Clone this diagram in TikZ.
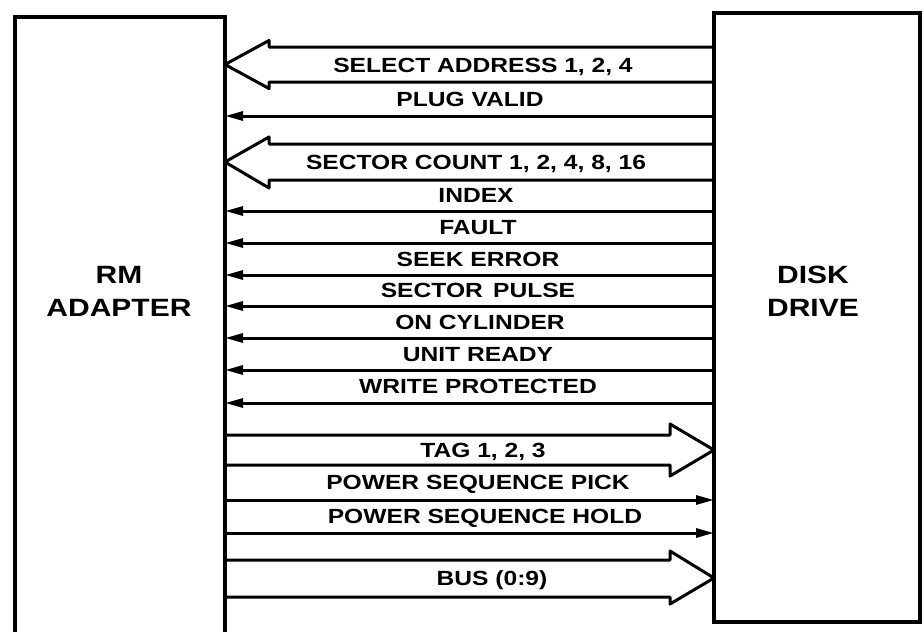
\documentclass[tikz,border=0pt]{standalone}
\usepackage{fontspec}
\setmainfont{Liberation Sans}
\newfontfamily\labfont[FakeStretch=1.2]{Liberation Sans}
\usetikzlibrary{arrows.meta,calc}
\begin{document}
\begin{tikzpicture}[x=1pt,y=-1pt,
  box/.style={draw, line width=4.2pt, rectangle, outer sep=0pt, inner sep=0pt, anchor=north west},
  sig/.style={line width=3pt, -{Triangle[length=18pt,width=9pt]}},
  busarrow/.style={line width=3pt, line join=round},
  lab/.style={font=\labfont\bfseries\fontsize{20.5}{22}\selectfont, anchor=base, inner sep=0pt},
  boxlab/.style={font=\labfont\bfseries\fontsize{25}{33}\selectfont, align=center, inner sep=0pt}]
\useasboundingbox (0,0) rectangle (924,632);
\clip (0,0) rectangle (924,632);
\fill[white] (0,0) rectangle (924,632);

% boxes
\node[box, minimum width=210pt, minimum height=650pt] (adapter) at (15,17) {};
\node[box, minimum width=206pt, minimum height=609pt] (drive) at (714,13) {};
\node[boxlab] (adlab) at (119,291) {RM\\ADAPTER};
\node[boxlab] (drlab) at (813,291) {DISK\\DRIVE};

% SELECT ADDRESS (wide, to the left)
\draw[busarrow] (drive.west |- 0,47) -- ($(adapter.east |- 0,47)+(44,0)$) -- ($(adapter.east |- 0,40.5)+(44,0)$)
  -- (adapter.east |- 0,64.5) -- ($(adapter.east |- 0,88.5)+(44,0)$) -- ($(adapter.east |- 0,82)+(44,0)$) -- (drive.west |- 0,82);
\node[lab] (l1) at (483,72) {SELECT ADDRESS 1, 2, 4};

% PLUG VALID
\draw[sig] (drive.west |- 0,116) -- (adapter.east |- 0,116);
\node[lab] (l2) at (470,106) {PLUG VALID};

% SECTOR COUNT (wide, to the left)
\draw[busarrow] (drive.west |- 0,144) -- ($(adapter.east |- 0,144)+(44,0)$) -- ($(adapter.east |- 0,137)+(44,0)$)
  -- (adapter.east |- 0,162) -- ($(adapter.east |- 0,188)+(44,0)$) -- ($(adapter.east |- 0,180)+(44,0)$) -- (drive.west |- 0,180);
\node[lab] (l3) at (476,169) {SECTOR COUNT 1, 2, 4, 8, 16};

% single lines to the left
\draw[sig] (drive.west |- 0,211) -- (adapter.east |- 0,211);
\node[lab] (l4) at (476,202.5) {INDEX};
\draw[sig] (drive.west |- 0,243) -- (adapter.east |- 0,243);
\node[lab] (l5) at (478,234) {FAULT};
\draw[sig] (drive.west |- 0,275) -- (adapter.east |- 0,275);
\node[lab] (l6) at (478,266) {SEEK ERROR};
\draw[sig] (drive.west |- 0,306) -- (adapter.east |- 0,306);
\node[lab] (l7) at (478,297.5) {SECTOR\hspace{0.5em}PULSE};
\draw[sig] (drive.west |- 0,338) -- (adapter.east |- 0,338);
\node[lab] (l8) at (480,329) {ON CYLINDER};
\draw[sig] (drive.west |- 0,370) -- (adapter.east |- 0,370);
\node[lab] (l9) at (478,361) {UNIT READY};
\draw[sig] (drive.west |- 0,403) -- (adapter.east |- 0,403);
\node[lab] (l10) at (478,393.5) {WRITE PROTECTED};

% TAG (wide, to the right)
\draw[busarrow] (adapter.east |- 0,435) -- ($(drive.west |- 0,435)+(-44,0)$) -- ($(drive.west |- 0,424)+(-44,0)$)
  -- (drive.west |- 0,450) -- ($(drive.west |- 0,476)+(-44,0)$) -- ($(drive.west |- 0,465)+(-44,0)$) -- (adapter.east |- 0,465);
\node[lab] (l11) at (483,457) {TAG 1, 2, 3};

% power sequence
\draw[sig] (adapter.east |- 0,500) -- (drive.west |- 0,500);
\node[lab] (l12) at (478,489.5) {POWER SEQUENCE PICK};
\draw[sig] (adapter.east |- 0,533) -- (drive.west |- 0,533);
\node[lab] (l13) at (485,523.5) {POWER SEQUENCE HOLD};

% BUS (wide, to the right)
\draw[busarrow] (adapter.east |- 0,560) -- ($(drive.west |- 0,560)+(-44,0)$) -- ($(drive.west |- 0,551)+(-44,0)$)
  -- (drive.west |- 0,578) -- ($(drive.west |- 0,604)+(-44,0)$) -- ($(drive.west |- 0,597)+(-44,0)$) -- (adapter.east |- 0,597);
\node[lab] (l14) at (492,585) {BUS (0:9)};
\end{tikzpicture}
\end{document}
